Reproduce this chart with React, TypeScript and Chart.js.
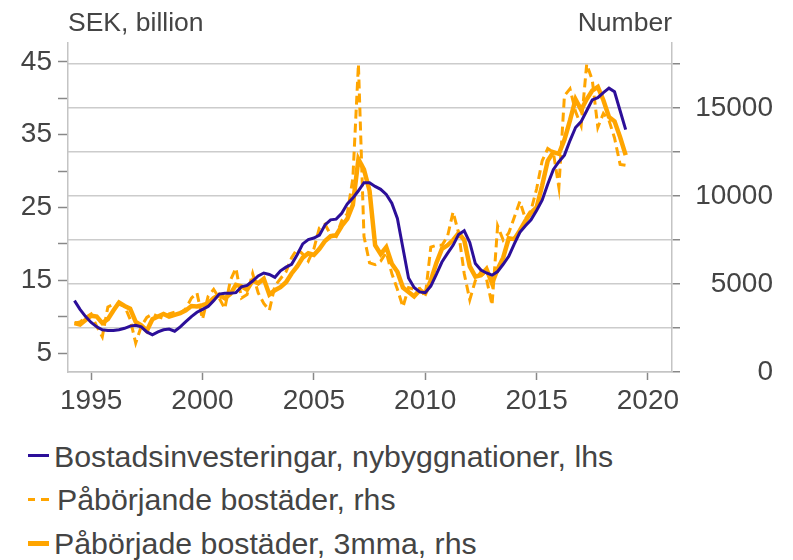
import React, { useEffect, useRef } from 'react';
import { Chart, registerables } from 'chart.js';

Chart.register(...registerables);

// Quarterly observations, first at 1994.25, step of a quarter
const START_YEAR = 1994.25;
const STEP = 0.25;

// Bostadsinvesteringar, nybyggnationer (SEK billion, lhs)
const investment = [
  12.2, 11.0, 10.0, 9.2,
  8.6, 8.2, 8.1, 8.1,
  8.2, 8.4, 8.7, 8.8,
  8.6, 7.9, 7.5, 7.9,
  8.2, 8.3, 8.0, 8.6,
  9.3, 10.0, 10.6, 11.0,
  11.4, 12.2, 13.1, 13.2,
  13.2, 13.3, 14.1, 14.3,
  14.9, 15.6, 16.0, 15.8,
  15.4, 16.3, 16.8, 17.2,
  18.5, 20.0, 20.6, 20.8,
  21.2, 22.6, 23.3, 23.4,
  24.2, 25.5, 26.3, 27.3,
  28.4, 28.4, 27.9, 27.5,
  26.8, 25.6, 23.5, 19.4,
  15.3, 14.0, 13.4, 13.3,
  14.2, 15.8, 17.5, 18.7,
  19.8, 21.3, 21.8, 20.2,
  17.3, 16.4, 16.0, 15.7,
  16.2, 17.2, 18.3, 20.0,
  21.6, 22.5, 23.3, 24.6,
  26.0, 28.2, 30.2, 31.3,
  32.2, 34.2, 36.0, 36.8,
  38.3, 39.8, 40.1, 40.8,
  41.4, 40.9, 38.3, 35.7,
];

// Påbörjande bostäder (number, rhs)
const starts = [
  2780, 2850, 3100, 3300,
  2600, 2000, 3700, 3850,
  3850, 3750, 3000, 1650,
  2600, 3100, 3300, 3150,
  3050, 3300, 3400, 3330,
  3600, 4200, 4500, 3000,
  4300, 4700, 4200, 3600,
  5200, 5900, 4200, 4400,
  5600, 4500, 3900, 3500,
  4900, 5300, 5700, 6500,
  7000, 6700, 6300, 7000,
  8200, 8400, 7800, 7700,
  8600, 9000, 11000, 17500,
  7700, 6200, 6100, 6300,
  6800, 5600, 4700, 3700,
  4800, 4700, 4750, 4300,
  7100, 7200, 7200, 7700,
  9100, 7900, 5600, 4100,
  5200, 5700, 5300, 3800,
  8300, 7500, 7900, 8800,
  9700, 8700, 9200, 10400,
  12000, 12700, 12500, 10500,
  15700, 16100, 14800, 14000,
  17500, 16600, 13900, 14700,
  14300, 13300, 11800, 11750,
];

// Påbörjade bostäder, 3mma (number, rhs)
const starts3mma = [
  2780, 2700, 2950, 3200,
  3150, 2780, 3000, 3500,
  3950, 3750, 3600, 2850,
  2650, 2350, 3000, 3150,
  3300, 3150, 3250, 3350,
  3500, 3750, 3720, 3800,
  3900, 4200, 4380, 4190,
  4430, 4950, 4870, 4680,
  5200, 5040, 5300, 4400,
  4650, 4820, 5100, 5600,
  6000, 6500, 6750, 6650,
  7000, 7450, 7720, 7780,
  8300, 8700, 9500, 12100,
  11500, 10300, 7200, 6700,
  7100, 6150, 5700, 4800,
  4550, 4300, 4650, 4470,
  5200, 6200, 7000, 7200,
  7500, 7900, 7500, 6000,
  5420, 5500, 5850, 5040,
  5850, 6500, 7600, 7550,
  8050, 8600, 9050, 9350,
  10600, 12000, 12500, 12400,
  13200, 14300, 15500, 14900,
  15500, 16000, 16210, 15450,
  14500, 14250, 13350, 12330,
];

const xTicks = [1995, 2000, 2005, 2010, 2015, 2020];
const leftTicks = [5, 10, 15, 20, 25, 30, 35, 40, 45];
const leftLabels = [5, 15, 25, 35, 45];
const rightTicks = [0, 2500, 5000, 7500, 10000, 12500, 15000, 17500];
const rightLabels = [0, 5000, 10000, 15000];

const legendItems = [
  { label: 'Bostadsinvesteringar, nybyggnationer, lhs', kind: 'blue' },
  { label: 'Påbörjande bostäder, rhs', kind: 'dash' },
  { label: 'Påbörjade bostäder, 3mma, rhs', kind: 'solid' },
];

const BLUE = '#2c0f99';
const ORANGE = '#ffa500';
const FONT = '"Liberation Sans", Arial, Helvetica, sans-serif';
const TEXT = '#444444';

const toPoints = (arr: number[]) => arr.map((v, i) => ({ x: START_YEAR + i * STEP, y: v }));

export default function App() {
  const ref = useRef<HTMLCanvasElement>(null);

  useEffect(() => {
    if (!ref.current) return;
    const chart = new Chart(ref.current, {
      type: 'line',
      data: {
        datasets: [
          {
            label: legendItems[0].label,
            data: toPoints(investment),
            borderColor: BLUE,
            borderWidth: 3,
            pointRadius: 0,
            yAxisID: 'yL',
            tension: 0,
          },
          {
            label: legendItems[2].label,
            data: toPoints(starts3mma),
            borderColor: ORANGE,
            borderWidth: 4.5,
            pointRadius: 0,
            yAxisID: 'yR',
            tension: 0,
          },
          {
            label: legendItems[1].label,
            data: toPoints(starts),
            borderColor: ORANGE,
            borderWidth: 3,
            borderDash: [9, 5],
            pointRadius: 0,
            yAxisID: 'yR',
            tension: 0,
          },
        ],
      },
      options: {
        responsive: false,
        animation: false,
        devicePixelRatio: 1,
        layout: { padding: { left: 0, right: 20, top: 43, bottom: 0 } },
        plugins: { legend: { display: false }, tooltip: { enabled: false } },
        scales: {
          x: {
            type: 'linear',
            min: 1993.96,
            max: 2021.08,
            afterBuildTicks: (s: any) => { s.ticks = xTicks.map((v) => ({ value: v })); },
            afterFit: (s: any) => { s.height = 48; },
            grid: { drawOnChartArea: false, drawTicks: true, tickLength: 8, tickColor: '#888', tickWidth: 1.5 },
            border: { display: true, color: '#c4c4c4', width: 1.5 },
            ticks: {
              autoSkip: false,
              maxRotation: 0,
              padding: 4,
              color: TEXT,
              font: { family: FONT, size: 28 },
              callback: (v: any) => String(v),
            },
          },
          yL: {
            type: 'linear',
            position: 'left',
            min: 2.39,
            max: 47.61,
            afterBuildTicks: (s: any) => { s.ticks = leftTicks.map((v) => ({ value: v })); },
            afterFit: (s: any) => { s.width = 68; },
            grid: { drawOnChartArea: false, drawTicks: true, tickLength: 10, tickColor: '#888', tickWidth: 1.5 },
            border: { display: true, color: '#c4c4c4', width: 1.5 },
            ticks: {
              autoSkip: false,
              padding: 6,
              color: TEXT,
              font: { family: FONT, size: 28 },
              callback: (v: any) => (leftLabels.includes(Number(v)) ? String(v) : ''),
            },
          },
          yR: {
            type: 'linear',
            position: 'right',
            min: 0,
            max: 18700,
            afterBuildTicks: (s: any) => { s.ticks = rightTicks.map((v) => ({ value: v })); },
            afterFit: (s: any) => { s.width = 101; },
            grid: { drawOnChartArea: true, drawTicks: true, tickLength: 8, color: '#cccccc', lineWidth: 1.5, tickColor: '#888', tickWidth: 1.5 },
            border: { display: true, color: '#c4c4c4', width: 1.5 },
            ticks: {
              autoSkip: false,
              padding: 6,
              crossAlign: 'far',
              color: TEXT,
              font: { family: FONT, size: 28 },
              callback: (v: any) => (rightLabels.includes(Number(v)) ? String(v) : ''),
            },
          },
        },
      },
    } as any);
    return () => chart.destroy();
  }, []);

  const legendTops = [440, 483, 527];

  return (
    <div style={{ position: 'absolute', left: 0, top: 0, width: 793, height: 560, background: '#fff', fontFamily: FONT, color: TEXT, overflow: 'hidden' }}>
      <canvas ref={ref} width={793} height={420} style={{ position: 'absolute', left: 0, top: 0, display: 'block' }} />
      <div style={{ position: 'absolute', left: 68, top: 7, fontSize: 26.5, lineHeight: '30px', whiteSpace: 'nowrap' }}>SEK, billion</div>
      <div style={{ position: 'absolute', right: 793 - 672, top: 7, fontSize: 26.5, lineHeight: '30px', whiteSpace: 'nowrap' }}>Number</div>
      {legendItems.map((it, i) => (
        <div key={i} style={{ position: 'absolute', left: 0, top: legendTops[i], height: 34, width: 793 }}>
          {it.kind === 'blue' && (
            <div style={{ position: 'absolute', left: 28, top: 14, width: 21, height: 3, background: BLUE }} />
          )}
          {it.kind === 'dash' && (
            <>
              <div style={{ position: 'absolute', left: 28, top: 15, width: 7, height: 3, background: ORANGE }} />
              <div style={{ position: 'absolute', left: 41, top: 15, width: 8, height: 3, background: ORANGE }} />
            </>
          )}
          {it.kind === 'solid' && (
            <div style={{ position: 'absolute', left: 28, top: 14, width: 21, height: 4.5, background: ORANGE }} />
          )}
          <div style={{ position: 'absolute', left: it.kind === 'dash' ? 57 : 54, top: 0, fontSize: 30.3, lineHeight: '34px', whiteSpace: 'nowrap' }}>{it.label}</div>
        </div>
      ))}
    </div>
  );
}
